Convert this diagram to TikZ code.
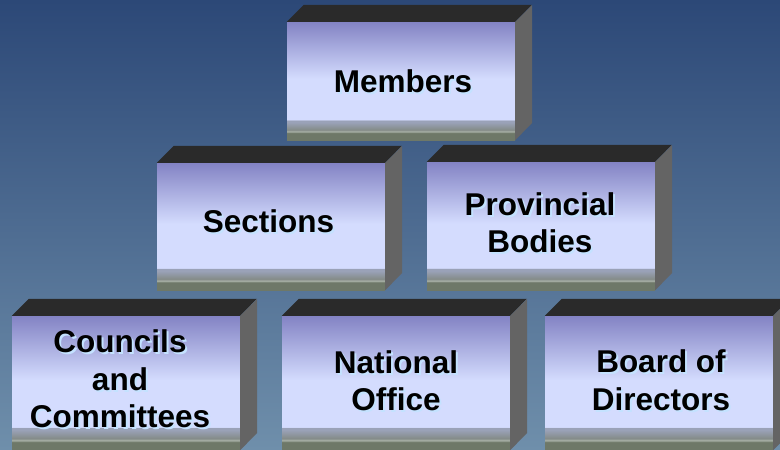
\documentclass[tikz,border=0pt]{standalone}
\usepackage{fontspec}
\setmainfont{Liberation Sans}
\usepackage{tikz}

\definecolor{bgtop}{HTML}{2C4877}
\definecolor{bgbottom}{HTML}{6F8FAB}
\definecolor{facetop}{HTML}{8383C4}
\definecolor{facelight}{HTML}{D4DCFE}
\definecolor{stripdark}{HTML}{6E7868}
\definecolor{stripmid}{HTML}{848B88}
\definecolor{stripline}{HTML}{AAB2A8}
\definecolor{striptop}{HTML}{9AA2B8}
\definecolor{lidgray}{HTML}{2A2A2A}
\definecolor{sidegray}{HTML}{646464}
\definecolor{glow}{HTML}{C4E2FF}

% front face of a brick: light face with a grey strip at the bottom
\pgfdeclareverticalshading{brickfront}{100bp}{color(0bp)=(stripdark); color(25bp)=(stripdark);
  color(28bp)=(stripdark); color(28.6bp)=(stripline); color(29.3bp)=(stripmid);
  color(32.5bp)=(striptop); color(33.4bp)=(striptop); color(33.6bp)=(facelight);
  color(51bp)=(facelight); color(75bp)=(facetop); color(100bp)=(facetop)}

\begin{document}
\begin{tikzpicture}[x=1pt,y=-1pt,
    brick/.style={shading=brickfront, inner sep=0pt, minimum width=228pt},
    lid/.style={fill=lidgray},
    side/.style={fill=sidegray},
    caption/.style={font=\fontsize{31.5}{37.5}\selectfont\bfseries, align=center, inner sep=0pt},
    halo/.style={caption, text=glow}]

    % Background
    \useasboundingbox (0,0) rectangle (780,450);
    \clip (0,0) rectangle (780,450);
    \shade[top color=bgtop, bottom color=bgbottom] (0,0) rectangle (780,450);

    % Top row
    \node[brick, minimum height=118pt] (members) at (401,81) {};
    \fill[lid] (members.north west) -- ++(17,-17) -- ++(228,0) -- (members.north east) -- cycle;
    \fill[side] (members.north east) -- ++(17,-17) -- ++(0,118) -- (members.south east) -- cycle;

    % Middle row
    \node[brick, minimum height=127pt] (sections) at (271,226.5) {};
    \fill[lid] (sections.north west) -- ++(17,-17) -- ++(228,0) -- (sections.north east) -- cycle;
    \fill[side] (sections.north east) -- ++(17,-17) -- ++(0,127) -- (sections.south east) -- cycle;

    \node[brick, minimum height=128pt] (provincial) at (541,226) {};
    \fill[lid] (provincial.north west) -- ++(17,-17) -- ++(228,0) -- (provincial.north east) -- cycle;
    \fill[side] (provincial.north east) -- ++(17,-17) -- ++(0,128) -- (provincial.south east) -- cycle;

    % Bottom row
    \node[brick, minimum height=134pt] (councils) at (126,383) {};
    \fill[lid] (councils.north west) -- ++(17,-17) -- ++(228,0) -- (councils.north east) -- cycle;
    \fill[side] (councils.north east) -- ++(17,-17) -- ++(0,134) -- (councils.south east) -- cycle;

    \node[brick, minimum height=134pt] (national) at (396,383) {};
    \fill[lid] (national.north west) -- ++(17,-17) -- ++(228,0) -- (national.north east) -- cycle;
    \fill[side] (national.north east) -- ++(17,-17) -- ++(0,134) -- (national.south east) -- cycle;

    \node[brick, minimum height=134pt] (board) at (659,383) {};
    \fill[lid] (board.north west) -- ++(17,-17) -- ++(228,0) -- (board.north east) -- cycle;
    \fill[side] (board.north east) -- ++(17,-17) -- ++(0,134) -- (board.south east) -- cycle;

    % Labels with their light shadow
    \node[halo] (members-s) at (405,83) {Members};
    \node[caption] (members-t) at (403,81) {Members};
    \node[halo] (sections-s) at (270.5,223.5) {Sections};
    \node[caption] (sections-t) at (268.5,221.5) {Sections};
    \node[halo] (provincial-s) at (542,224.5) {Provincial\\Bodies};
    \node[caption] (provincial-t) at (540,222.5) {Provincial\\Bodies};
    \node[halo] (councils-s) at (122,381) {Councils\\and\\Committees};
    \node[caption] (councils-t) at (120,379) {Councils\\and\\Committees};
    \node[halo] (national-s) at (398,382.5) {National\\Office};
    \node[caption] (national-t) at (396,380.5) {National\\Office};
    \node[halo] (board-s) at (663,382) {Board of\\Directors};
    \node[caption] (board-t) at (661,380) {Board of\\Directors};
\end{tikzpicture}
\end{document}
